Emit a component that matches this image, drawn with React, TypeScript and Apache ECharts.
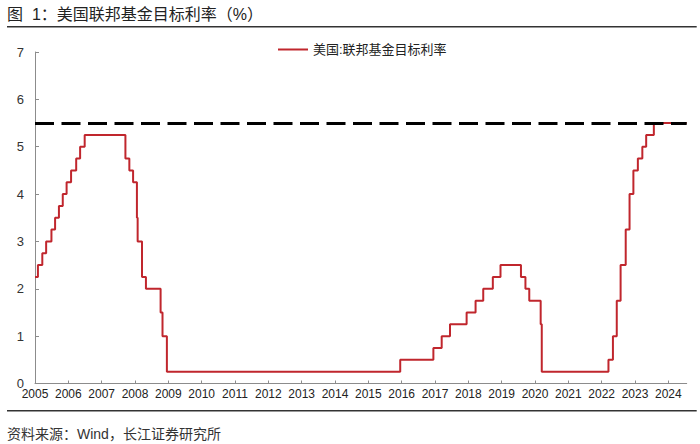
import React, { useEffect, useRef } from "react";
import * as echarts from "echarts";

// Effective dates of target-rate changes (upper bound, %) and the rate from that date on
const changeDates: string[] = [
  "2005-01-01", "2005-02-02", "2005-03-22", "2005-05-03", "2005-06-30", "2005-08-09",
  "2005-09-20", "2005-11-01", "2005-12-13", "2006-01-31", "2006-03-28", "2006-05-10",
  "2006-06-29", "2007-09-18", "2007-10-31", "2007-12-11", "2008-01-22", "2008-01-30",
  "2008-03-18", "2008-04-30", "2008-10-08", "2008-10-29", "2008-12-16", "2015-12-16",
  "2016-12-14", "2017-03-15", "2017-06-14", "2017-12-13", "2018-03-21", "2018-06-13",
  "2018-09-26", "2018-12-19", "2019-07-31", "2019-09-18", "2019-10-30", "2020-03-03",
  "2020-03-15", "2022-03-16", "2022-05-04", "2022-06-15", "2022-07-27", "2022-09-21",
  "2022-11-02", "2022-12-14", "2023-02-01", "2023-03-22", "2023-05-03", "2023-07-26",
  "2024-07-19",
];
const rateValues: number[] = [
  2.25, 2.5, 2.75, 3.0, 3.25, 3.5,
  3.75, 4.0, 4.25, 4.5, 4.75, 5.0,
  5.25, 4.75, 4.5, 4.25, 3.5, 3.0,
  2.25, 2.0, 1.5, 1.0, 0.25, 0.5,
  0.75, 1.0, 1.25, 1.5, 1.75, 2.0,
  2.25, 2.5, 2.25, 2.0, 1.75, 1.25,
  0.25, 0.5, 1.0, 1.75, 2.5, 3.25,
  4.0, 4.5, 4.75, 5.0, 5.25, 5.5,
  5.5,
];
const yearTicks: number[] = [
  2005, 2006, 2007, 2008, 2009, 2010, 2011, 2012, 2013, 2014,
  2015, 2016, 2017, 2018, 2019, 2020, 2021, 2022, 2023, 2024,
];
const referenceLevel = 5.5;
const seriesName = "美国:联邦基金目标利率";
const titleText = "图  1：美国联邦基金目标利率（%）";
const sourceText = "资料来源：Wind，长江证券研究所";

function toDecimalYear(d: string): number {
  const [y, m, day] = d.split("-").map(Number);
  const start = Date.UTC(y, 0, 1);
  const end = Date.UTC(y + 1, 0, 1);
  const t = Date.UTC(y, m - 1, day);
  return y + (t - start) / (end - start);
}

const FONT = "'Liberation Sans', Arial, 'Noto Sans CJK SC', sans-serif";

export default function App() {
  const ref = useRef<HTMLDivElement>(null);
  useEffect(() => {
    if (!ref.current) return;
    const chart = echarts.init(ref.current, undefined, { renderer: "svg" });
    const data = changeDates.map((d, i) => [toDecimalYear(d), rateValues[i]]);
    chart.setOption({
      animation: false,
      backgroundColor: "#ffffff",
      textStyle: { fontFamily: FONT },
      grid: { left: 35, right: 13.3, top: 52, bottom: 60.5, containLabel: false },
      legend: {
        left: 273,
        top: 38,
        itemWidth: 30,
        itemHeight: 2,
        icon: "rect",
        textStyle: { fontSize: 13, color: "#222", fontFamily: FONT },
        data: [{ name: seriesName, icon: "rect" }],
      },
      xAxis: {
        type: "value",
        min: 2005,
        max: 2024.55,
        splitLine: { show: false },
        axisLine: { lineStyle: { color: "#8c8c8c", width: 1 } },
        axisTick: {
          inside: true,
          length: 3,
          customValues: yearTicks,
          lineStyle: { color: "#8c8c8c" },
        },
        axisLabel: {
          customValues: yearTicks,
          fontSize: 12,
          color: "#222",
          margin: 4,
          formatter: (v: number) => String(Math.round(v)),
        },
      },
      yAxis: {
        type: "value",
        min: 0,
        max: 7,
        interval: 1,
        splitLine: { show: false },
        axisLine: { show: true, lineStyle: { color: "#8c8c8c", width: 1 } },
        axisTick: { show: true, inside: true, length: 4, lineStyle: { color: "#8c8c8c" } },
        axisLabel: { fontSize: 13, color: "#333", margin: 11 },
      },
      series: [
        {
          name: seriesName,
          type: "line",
          step: "end",
          data,
          showSymbol: false,
          symbol: "none",
          color: "#c0262d",
          lineStyle: { color: "#c0262d", width: 2 },
          z: 2,
          markLine: {
            silent: true,
            symbol: "none",
            label: { show: false },
            lineStyle: { color: "#000", width: 3, type: [19, 7.5] },
            data: [{ yAxis: referenceLevel }],
            z: 3,
          },
        },
      ],
      graphic: [
        {
          type: "text",
          left: 7,
          top: 6,
          style: { text: titleText, fontSize: 16, fill: "#222", fontFamily: FONT },
        },
        {
          type: "line",
          shape: { x1: 7, y1: 26.7, x2: 696.7, y2: 26.7 },
          style: { stroke: "#333", lineWidth: 1.5 },
        },
        {
          type: "line",
          shape: { x1: 7, y1: 410.7, x2: 696.7, y2: 410.7 },
          style: { stroke: "#333", lineWidth: 1.5 },
        },
        {
          type: "text",
          left: 7,
          top: 427,
          style: { text: sourceText, fontSize: 14, fill: "#333", fontFamily: FONT },
        },
      ],
    });
    return () => chart.dispose();
  }, []);
  return (
    <div
      ref={ref}
      style={{ position: "fixed", left: 0, top: 0, width: 700, height: 444, background: "#fff" }}
    />
  );
}
